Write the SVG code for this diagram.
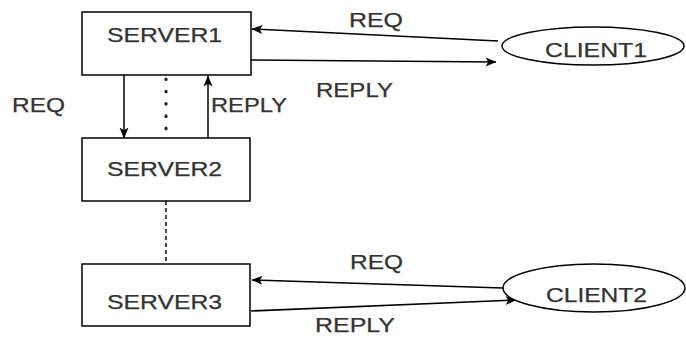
<svg xmlns="http://www.w3.org/2000/svg" width="686" height="338" viewBox="0 0 686 338">
  <style>
    .box { fill: #ffffff; stroke: #000000; stroke-width: 1.5; }
    .lbl { font-family: "Liberation Sans", Arial, sans-serif; font-size: 20px; fill: #333333; stroke: #333333; stroke-width: 0.25; }
    .edge { stroke: #000000; stroke-width: 1.5; fill: none; }
    .dots { stroke: #222222; stroke-width: 3.2; stroke-linecap: round; stroke-dasharray: 0.5 11.8; fill: none; }
    .dash { stroke: #000000; stroke-width: 1.4; stroke-dasharray: 4 3; fill: none; }
  </style>
  <defs>
    <marker id="arrow" viewBox="0 0 11 10" refX="10.5" refY="5" markerWidth="11" markerHeight="10" markerUnits="userSpaceOnUse" orient="auto">
      <path d="M0,0.5 L11,5 L0,9.5 L2.8,5 Z" fill="#000000"/>
    </marker>
  </defs>
  <rect width="686" height="338" fill="#ffffff"/>

  <g id="connectors">
    <line class="edge" x1="498" y1="41" x2="252" y2="29" marker-end="url(#arrow)"/>
    <line class="edge" x1="251" y1="60" x2="496" y2="62" marker-end="url(#arrow)"/>
    <line class="edge" x1="124" y1="75" x2="124" y2="138" marker-end="url(#arrow)"/>
    <line class="dots" x1="166" y1="79" x2="166" y2="132"/>
    <line class="edge" x1="208" y1="138" x2="208" y2="76" marker-end="url(#arrow)"/>
    <line class="dash" x1="166" y1="201" x2="166" y2="264"/>
    <line class="edge" x1="503" y1="288" x2="252" y2="280" marker-end="url(#arrow)"/>
    <line class="edge" x1="251" y1="311" x2="516" y2="300" marker-end="url(#arrow)"/>
  </g>

  <g id="edge-labels">
    <text class="lbl" x="349" y="27" textLength="54" lengthAdjust="spacingAndGlyphs">REQ</text>
    <text class="lbl" x="316" y="97" textLength="77" lengthAdjust="spacingAndGlyphs">REPLY</text>
    <text class="lbl" x="12" y="112" textLength="53" lengthAdjust="spacingAndGlyphs">REQ</text>
    <text class="lbl" x="211" y="112" textLength="76" lengthAdjust="spacingAndGlyphs">REPLY</text>
    <text class="lbl" x="350" y="269" textLength="53" lengthAdjust="spacingAndGlyphs">REQ</text>
    <text class="lbl" x="315" y="332" textLength="80" lengthAdjust="spacingAndGlyphs">REPLY</text>
  </g>

  <g id="server1">
    <rect class="box" x="82" y="12" width="169" height="63"/>
    <text class="lbl" x="107" y="42" textLength="115" lengthAdjust="spacingAndGlyphs">SERVER1</text>
  </g>
  <g id="server2">
    <rect class="box" x="82" y="138" width="168" height="63"/>
    <text class="lbl" x="107" y="176" textLength="115" lengthAdjust="spacingAndGlyphs">SERVER2</text>
  </g>
  <g id="server3">
    <rect class="box" x="82" y="264" width="168" height="62"/>
    <text class="lbl" x="107" y="309" textLength="115" lengthAdjust="spacingAndGlyphs">SERVER3</text>
  </g>
  <g id="client1">
    <ellipse class="box" cx="593" cy="46" rx="91" ry="19" stroke-width="1.3"/>
    <text class="lbl" x="545" y="57" textLength="102" lengthAdjust="spacingAndGlyphs">CLIENT1</text>
  </g>
  <g id="client2">
    <ellipse class="box" cx="594" cy="288" rx="91" ry="24" stroke-width="1.3"/>
    <text class="lbl" x="546" y="302" textLength="101" lengthAdjust="spacingAndGlyphs">CLIENT2</text>
  </g>
</svg>
